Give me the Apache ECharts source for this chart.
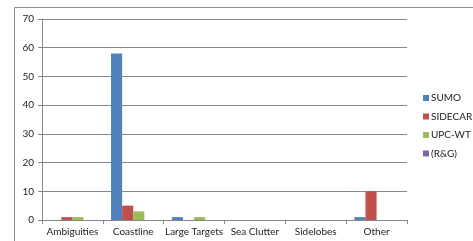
<!DOCTYPE html>
<html><head><meta charset="utf-8">
<script src="https://cdn.jsdelivr.net/npm/echarts@6/dist/echarts.min.js"></script>
<style>html,body{margin:0;padding:0;background:#fff}#c{width:473px;height:241px}</style>
</head><body><div id="c"></div>
<script>
const categories = ['Ambiguities', 'Coastline', 'Large Targets', 'Sea Clutter', 'Sidelobes', 'Other'];
const sumo = [0, 58, 1, 0, 0, 1];
const sidecar = [1, 5, 0, 0, 0, 10];
const upcwt = [1, 3, 1, 0, 0, 0];
const rg = [0, 0, 0, 0, 0, 0];
const seriesNames = ['SUMO', 'SIDECAR', 'UPC-WT', '(R&G)'];
const colors = ['#4F81BD', '#C0504D', '#9BBB59', '#8064A2'];
const yTicks = [0, 10, 20, 30, 40, 50, 60, 70];

const font = 'Lato';
const chart = echarts.init(document.getElementById('c'), null, {renderer: 'canvas'});
const vals = [sumo, sidecar, upcwt, rg];
chart.setOption({
  animation: false,
  color: colors,
  graphic: [{type: 'rect', shape: {x: 14.5, y: 7.5, width: 600, height: 400}, style: {fill: 'none', stroke: '#8c8c8c', lineWidth: 1}, silent: true}],
  grid: {left: 42, top: 19, right: 66, bottom: 21, containLabel: false},
  legend: {
    orient: 'vertical', left: 418, top: 88, width: 120, padding: 5, itemWidth: 6, itemHeight: 6, itemGap: 8.5,
    icon: 'rect', textStyle: {fontFamily: font, fontSize: 10, color: '#222', padding: [0, 0, 0, -3], overflow: 'none', width: 100},
    data: seriesNames
  },
  xAxis: {
    type: 'category', data: categories,
    axisLine: {lineStyle: {color: '#868686'}},
    axisTick: {show: true, inside: false, length: 4, lineStyle: {color: '#868686'}},
    axisLabel: {fontFamily: font, fontSize: 10, color: '#222', margin: 7, interval: 0}
  },
  yAxis: {
    type: 'value', min: yTicks[0], max: yTicks[yTicks.length - 1], interval: 10,
    axisLine: {show: true, lineStyle: {color: '#868686'}},
    axisTick: {show: true, length: 4, lineStyle: {color: '#868686'}},
    axisLabel: {fontFamily: font, fontSize: 10, color: '#222', margin: 8},
    splitLine: {lineStyle: {color: '#868686'}}
  },
  series: seriesNames.map((n, i) => ({
    name: n, type: 'bar', data: vals[i], barGap: '0%', barCategoryGap: '27%'
  }))
});
</script></body></html>
